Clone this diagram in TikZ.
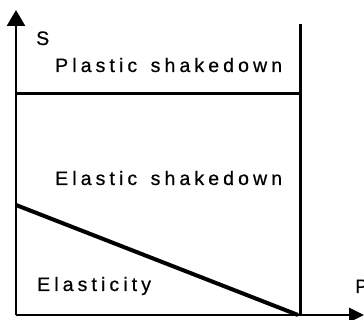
\documentclass[tikz,border=0pt]{standalone}
\usepackage{fontspec}
\setmainfont{Liberation Sans}[LetterSpace=21,FakeBold=0.6]
\usetikzlibrary{arrows.meta}
\begin{document}
\begin{tikzpicture}[x=1pt,y=1pt,
  lbl/.style={inner sep=0pt,anchor=base west,font=\fontsize{19.5}{22}\selectfont},
  axis/.style={line width=2.6pt},
  bound/.style={line width=3pt},
  limit/.style={line width=4pt}]
\useasboundingbox (0,0) rectangle (364,320);
\coordinate (O) at (16,5);
\coordinate (ytop) at (16,310);
\coordinate (xend) at (364,5);
\coordinate (vtop) at (300,296);
\coordinate (vbot) at (300,5);
\coordinate (hl) at (16,226);
\coordinate (hr) at (300,226);
\coordinate (dl) at (16,115);
\coordinate (dr) at (298,5);
\draw[axis,-{Triangle[width=18pt,length=16pt]}] (O) -- (ytop);
\draw[axis,-{Triangle[width=14pt,length=15pt]}] (O) -- (xend);
\draw[bound] (vbot) -- (vtop);
\draw[bound] (hl) -- (hr);
\draw[limit] (dl) -- (dr);
\node[lbl] (s) at (36,275) {S};
\node[lbl] (p) at (355,27) {P};
\node[lbl] (ps) at (55,248) {Plastic\hspace{4pt} shakedown};
\node[lbl] (es) at (55,135) {Elastic\hspace{4pt} shakedown};
\node[lbl] (el) at (37,29) {Elasticity};
\end{tikzpicture}
\end{document}
